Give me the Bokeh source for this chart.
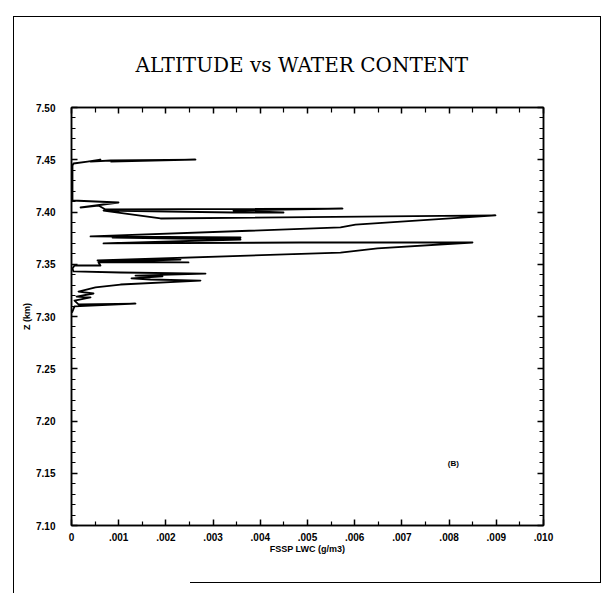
from bokeh.plotting import figure
from bokeh.models import (FixedTicker, LinearAxis, Range1d, Label, InlineStyleSheet,
                          CustomJSTickFormatter)
from bokeh.embed import file_html
from bokeh.resources import INLINE

# ---- data ----
lwc = [0.00001, 0.000064, 0.001356, 0.000148, 0.000064, 0.000403, 0.000106, 0.000466,
       0.000148, 0.000508, 0.001038, 0.002733, 0.001674, 0.001271, 0.001928, 0.001356,
       0.002839, 0.001038, 0.000042, 0.000021, 0.000064, 0.000614, 0.000572, 0.002479,
       0.000826, 0.002309, 0.000551, 0.005699, 0.006483, 0.008496, 0.004852, 0.000678,
       0.003581, 0.000869, 0.003581, 0.000403, 0.005699, 0.006017, 0.008983, 0.001886,
       0.000678, 0.003432, 0.004492, 0.003432, 0.005742, 0.000720, 0.000572, 0.000191,
       0.000996, 0.000021, 0.000021, 0.000021, 0.000042, 0.000339, 0.000614, 0.000403,
       0.000826, 0.002627, 0.000826]
alt = [7.3038, 7.3096, 7.3124, 7.3115, 7.3153, 7.3182, 7.3191, 7.3220,
       7.3239, 7.3278, 7.3306, 7.3344, 7.3354, 7.3364, 7.3383, 7.3392,
       7.3411, 7.3421, 7.3431, 7.3459, 7.3488, 7.3488, 7.3517, 7.3517,
       7.3526, 7.3545, 7.3536, 7.3612, 7.3651, 7.3708, 7.3708, 7.3699,
       7.3737, 7.3756, 7.3756, 7.3766, 7.3852, 7.3880, 7.3967, 7.3938,
       7.4014, 7.3995, 7.3995, 7.4014, 7.4033, 7.4024, 7.4062, 7.4043,
       7.4091, 7.4110, 7.4129, 7.4445, 7.4464, 7.4483, 7.4502, 7.4483,
       7.4493, 7.4502, 7.4483]

x_ticks = [0.000, 0.001, 0.002, 0.003, 0.004, 0.005, 0.006, 0.007, 0.008, 0.009, 0.010]
x_tick_labels = ["0", ".001", ".002", ".003", ".004", ".005", ".006", ".007", ".008", ".009", ".010"]
x_minor = [0.0005, 0.0015, 0.0025, 0.0035, 0.0045, 0.0055, 0.0065, 0.0075, 0.0085, 0.0095]
y_ticks = [7.10, 7.15, 7.20, 7.25, 7.30, 7.35, 7.40, 7.45, 7.50]
y_tick_labels = ["7.10", "7.15", "7.20", "7.25", "7.30", "7.35", "7.40", "7.45", "7.50"]
y_minor = [round(7.10 + 0.01 * i, 2) for i in range(41)]

title_text = "ALTITUDE vs WATER CONTENT"
x_label = "FSSP LWC (g/m3)"
y_label = "Z (km)"
panel_tag = "(B)"
tag_pos = (0.00809, 7.1593)

FMT = """
let best = 0;
for (let i = 0; i < tvals.length; i++) {
  if (Math.abs(tvals[i] - tick) < Math.abs(tvals[best] - tick)) best = i;
}
return tlabels[best];
"""

page_frame = InlineStyleSheet(css="""
:host { position: relative; }
:host::after { content: ''; position: absolute; left: 13px; top: 16px; width: 587px; height: 577px;
  border-left: 1.5px solid black; border-top: 1.5px solid black; pointer-events: none; z-index: 10; }
:host::before { content: ''; position: absolute; left: 190px; top: 16px; width: 410px; height: 566px;
  border-right: 1.5px solid black; border-bottom: 1.5px solid black; pointer-events: none; z-index: 10; }
""")

p = figure(width=606, height=593, frame_width=472, frame_height=418,
           min_border_left=71, min_border_right=63, min_border_top=107, min_border_bottom=68,
           x_range=Range1d(0, 0.010), y_range=Range1d(7.10, 7.50),
           output_backend="svg", toolbar_location=None, x_axis_type=None, y_axis_type=None)
p.stylesheets = [page_frame]
p.grid.visible = False
p.outline_line_color = "black"
p.outline_line_width = 1.5
p.background_fill_color = "white"
p.border_fill_color = "white"

p.title.text = title_text
p.title.align = "left"
p.title.offset = 64
p.title.text_font = "DejaVu Serif"
p.title.text_font_size = "20px"
p.title.text_font_style = "normal"
p.title.text_color = "black"
p.title.standoff = 62

def style_axis(ax, show_labels):
    ax.axis_line_color = "black"
    ax.axis_line_width = 1.5
    ax.major_tick_line_color = "black"
    ax.minor_tick_line_color = "black"
    ax.major_tick_line_width = 1.5
    ax.minor_tick_line_width = 1.2
    ax.major_tick_in = 6
    ax.major_tick_out = 0
    ax.minor_tick_in = 4
    ax.minor_tick_out = 0
    ax.major_label_text_font = "Liberation Sans"
    ax.major_label_text_font_style = "bold"
    ax.major_label_text_font_size = "10px"
    ax.major_label_text_color = "black"
    ax.axis_label_text_font = "Liberation Sans"
    ax.axis_label_text_font_style = "bold"
    ax.axis_label_text_font_size = "9px"
    ax.axis_label_text_color = "black"
    if not show_labels:
        ax.major_label_standoff = 0
        ax.major_label_text_color = None

xt = FixedTicker(ticks=x_ticks, minor_ticks=x_minor)
yt = FixedTicker(ticks=y_ticks, minor_ticks=y_minor)

xb = LinearAxis(ticker=xt, axis_label=x_label,
                formatter=CustomJSTickFormatter(args=dict(tvals=x_ticks, tlabels=x_tick_labels), code=FMT))
style_axis(xb, True)
xb.major_label_standoff = 7
xb.axis_label_standoff = 0
p.add_layout(xb, "below")

yl = LinearAxis(ticker=yt, axis_label=y_label,
                formatter=CustomJSTickFormatter(args=dict(tvals=y_ticks, tlabels=y_tick_labels), code=FMT))
style_axis(yl, True)
yl.major_label_standoff = 16
yl.axis_label_standoff = 1
p.add_layout(yl, "left")

blank = CustomJSTickFormatter(code="return '';")

xa = LinearAxis(ticker=xt, formatter=blank)
style_axis(xa, False)
xa.minor_tick_in = 5
p.add_layout(xa, "above")

yr = LinearAxis(ticker=yt, formatter=blank)
style_axis(yr, False)
p.add_layout(yr, "right")

p.line(lwc, alt, line_color="black", line_width=1.8, line_join="round")

p.add_layout(Label(x=tag_pos[0], y=tag_pos[1], text=panel_tag, text_font="Liberation Sans",
                   text_font_style="bold", text_font_size="8px", text_align="center",
                   text_baseline="middle", text_color="black"))

open("out.html", "w").write(file_html(p, INLINE))
